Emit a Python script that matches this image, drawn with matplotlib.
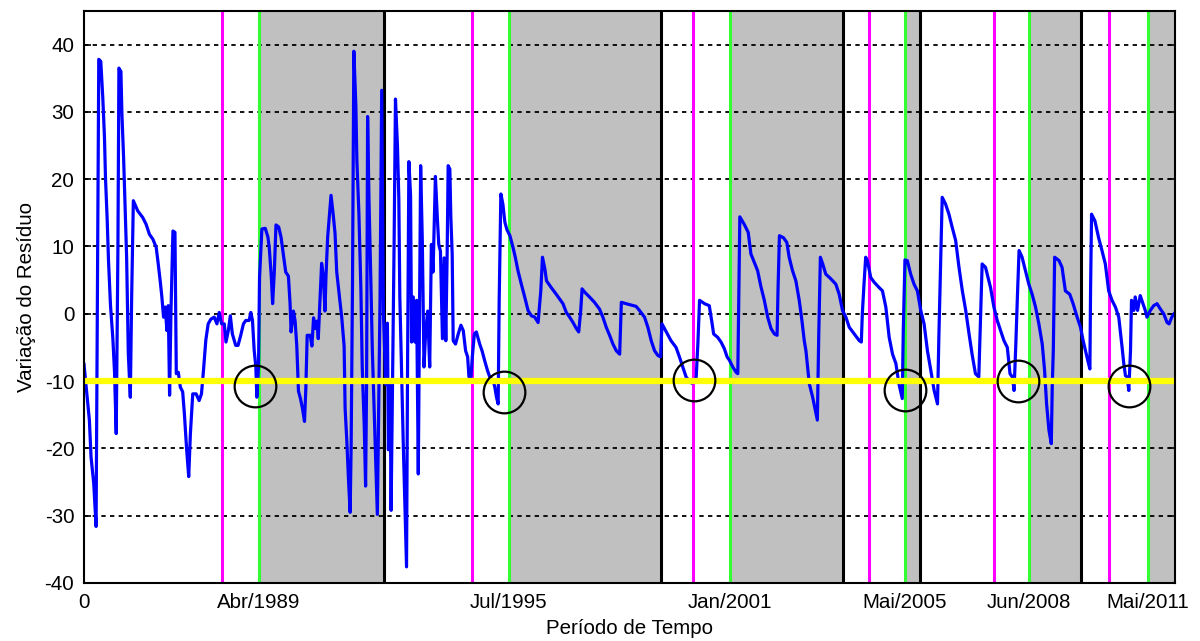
import matplotlib
matplotlib.use("Agg")
import matplotlib.pyplot as plt

plt.rcParams['font.family'] = ['Liberation Sans', 'DejaVu Sans']
plt.rcParams['axes.unicode_minus'] = False

# residual variation (x in months from the start)
months = [0, 0.9, 1.6, 2.1, 2.9, 3.6, 4.0, 4.4, 5.0, 5.6, 6.1, 6.4, 6.9, 7.3, 7.9, 8.6, 9.1, 9.6,
          10.1, 10.4, 11.0, 11.3, 11.8, 12.2, 12.7, 13.2, 13.8, 14.2, 14.7, 16.0, 17.5, 18.5, 19.5,
          20.5, 21.5, 22.0, 22.7, 23.2, 23.7, 24.2, 24.7, 25.1, 25.5, 25.9, 26.5, 27.1, 27.5, 28.1,
          28.7, 29.4, 29.9, 30.6, 31.2, 31.7, 32.4, 33.4, 34.3, 35.0, 35.6, 36.3, 37.0, 37.8, 38.8,
          39.6, 40.3, 41.0, 41.8, 42.3, 43.0, 43.6, 44.2, 45.2, 45.9, 46.7, 47.5, 48.2, 49.2, 49.7,
          50.2, 50.7, 51.2, 51.5, 52.0, 52.3, 53.0, 54.0, 54.8, 55.2, 55.8, 56.2, 56.7, 57.2, 58.0,
          58.7, 59.4, 60.1, 60.9, 61.4, 61.7, 62.4, 62.9, 63.4, 63.9, 64.5, 65.1, 65.7, 66.1, 66.5,
          67.4, 67.9, 68.4, 68.9, 69.4, 69.8, 70.3, 70.8, 71.3, 71.8, 72.1, 72.6, 73.1, 73.6, 74.3,
          74.8, 75.3, 76.0, 76.8, 77.5, 77.8, 78.3, 78.8, 79.3, 79.6, 80.0, 80.4, 81.0, 81.3, 81.9,
          82.5, 82.9, 83.5, 83.9, 84.2, 84.5, 84.9, 85.5, 85.9, 86.4, 86.9, 87.4, 87.9, 88.2, 88.7,
          89.2, 89.9, 90.4, 90.7, 91.2, 91.5, 92.0, 92.4, 92.8, 93.4, 93.8, 94.1, 94.6, 95.1, 95.6,
          96.1, 96.4, 96.8, 97.3, 97.6, 98.1, 98.6, 99.1, 99.6, 99.9, 100.3, 100.8, 101.3, 101.8,
          102.4, 103.0, 103.5, 104.0, 104.7, 105.3, 105.7, 106.2, 106.8, 107.3, 107.8, 108.2, 108.5,
          109.0, 109.3, 109.7, 110.0, 110.7, 111.5, 112.3, 113.0, 113.7, 114.3, 114.7, 115.3, 115.7,
          116.3, 116.9, 117.9, 118.6, 119.4, 120.2, 120.9, 121.9, 122.4, 122.9, 123.4, 123.7, 124.2,
          124.8, 125.4, 126.0, 126.9, 127.8, 128.5, 129.3, 130.3, 131.3, 132.3, 133.3, 134.3, 135.3,
          136.1, 136.6, 137.3, 137.8, 139.2, 140.7, 141.7, 142.7, 143.7, 144.7, 145.7, 146.7, 147.4,
          148.0, 148.4, 149.2, 150.6, 152.1, 153.6, 154.6, 155.6, 156.6, 157.6, 158.6, 159.6, 160.1,
          161.5, 164.5, 165.5, 167.0, 168.0, 169.0, 170.0, 171.0, 171.8, 172.2, 173.5, 174.9, 176.4,
          177.4, 178.4, 179.4, 179.9, 181.0, 182.0, 182.4, 182.9, 183.4, 184.9, 186.3, 187.0, 187.6,
          188.8, 189.8, 190.8, 191.6, 192.3, 193.3, 194.3, 194.8, 195.1, 195.4, 196.7, 197.9, 198.7,
          199.9, 200.7, 201.7, 202.7, 203.7, 204.7, 205.7, 206.5, 206.8, 207.2, 208.4, 209.4, 210.1,
          211.1, 212.1, 213.1, 213.9, 214.6, 215.1, 216.1, 217.1, 218.5, 218.9, 219.4, 220.1, 221.0,
          222.5, 224.0, 225.0, 226.0, 227.0, 228.0, 229.5, 231.0, 231.6, 231.9, 232.4, 232.9, 233.4,
          234.4, 235.4, 236.9, 237.9, 238.9, 239.9, 240.9, 241.9, 242.8, 243.8, 244.1, 244.6, 245.3,
          246.3, 247.3, 248.3, 249.3, 250.3, 251.3, 252.3, 253.3, 254.3, 254.7, 255.2, 255.7, 256.7,
          257.7, 258.7, 259.7, 260.7, 261.7, 262.7, 263.7, 264.6, 265.6, 266.6, 267.1, 267.6, 268.6,
          269.1, 270.1, 271.1, 272.1, 273.1, 274.1, 275.1, 275.9, 276.6, 277.1, 277.6, 278.1, 278.6,
          279.5, 280.5, 281.5, 282.5, 283.5, 284.5, 285.5, 286.2, 286.8, 287.5, 288.2, 288.5, 288.8,
          289.2, 290.5, 291.4, 292.4, 293.7, 294.7, 295.9, 296.9, 297.7, 298.4, 299.1, 299.7, 299.9,
          300.2, 301.2, 302.3, 303.3, 304.3, 305.3, 306.3, 307.3, 308.3, 309.3, 309.8, 310.3, 310.8,
          311.3, 311.8, 312.1, 312.8, 313.2, 313.9, 314.7, 315.5, 316.2, 316.7, 317.7, 318.7, 319.7,
          320.7, 321.7, 322.7, 323.3, 324.1, 324.8]
residual = [-7.5, -12.1, -15.8, -21.3, -25.2, -31.6, 3.0, 37.8, 37.5, 32.1, 26.2, 20.2, 14.1, 7.9, 1.2, -3.7, -8.7, -17.8,
            9.4, 36.5, 36.0, 29.6, 23.2, 16.5, 8.4, -5.9, -12.4, 2.5, 16.8, 15.3, 14.3, 13.3, 11.8,
            11.1, 9.9, 7.9, 4.9, 2.5, -0.5, 1.0, -2.5, 1.2, -12.1, 0.0, 12.3, 12.1, -8.9, -8.7,
            -10.9, -11.6, -14.8, -20.3, -24.2, -17.8, -11.9, -11.9, -12.9, -11.9, -8.4, -3.9, -1.5, -0.8, -0.5,
            -1.5, 0.2, -1.5, -1.5, -4.2, -2.5, -0.3, -3.0, -4.7, -4.7, -3.2, -1.5, -1.0, -1.0, 0.2,
            -1.0, -5.4, -7.9, -12.4, -7.9, 5.4, 12.6, 12.7, 11.4, 9.8, 5.6, 1.5, 6.2, 13.2, 12.9,
            11.4, 8.8, 6.2, 5.6, 1.5, -2.7, 0.4, -1.1, -4.8, -11.5, -12.6, -14.1, -16.0, -11.0, -3.2,
            -3.2, -4.8, -0.6, -2.2, -1.1, -3.7, 2.0, 7.5, 5.6, 0.4, 5.6, 11.4, 14.5, 17.6, 14.5,
            11.9, 6.2, 3.0, -0.6, -4.8, -14.1, -18.8, -24.6, -29.5, -19.3, 4.6, 39.0, 30.9, 22.8, 15.0,
            3.6, -7.9, -16.7, -25.6, -10.0, 29.3, 17.1, 4.1, -5.3, -13.6, -22.4, -29.8, -10.0, 2.0, 33.2,
            0.4, -10.5, -1.4, -20.2, -10.5, -29.2, -7.4, 10.8, 31.9, 24.9, 17.1, 2.5, -8.4, -18.8, -28.2,
            -37.6, -7.9, 22.6, 17.6, -4.2, 2.5, -4.2, 2.0, -23.8, -3.2, 22.0, 10.8, -7.9, -2.7,
            0.4, -7.9, 10.3, 6.2, 20.4, 14.0, 10.3, 9.3, -3.7, 8.3, -4.0, 9.0, 22.0,
            21.5, 14.3, 8.9, -4.0, -4.5, -3.0, -1.7, -2.5, -5.5, -6.4, -9.4, -9.4, -6.4,
            -3.0, -2.7, -4.5, -5.5, -7.0, -8.4, -9.4, -9.9, -10.9, -12.4, -13.4, 2.0, 17.8,
            16.3, 13.6, 12.5, 11.6, 9.9, 8.4, 6.4, 4.4, 2.5, 0.5, -0.3, -0.5, -1.3,
            3.4, 8.4, 6.7, 4.9, 3.9, 2.9, 2.2, 1.5, 0.2, -0.5, -1.3, -2.2, -2.7,
            0.5, 3.7, 3.2, 2.5, 1.7, 0.7, -0.5, -2.0, -3.2, -4.5, -5.5, -6.0, 1.7,
            1.5, 1.1, 0.5, -0.5, -2.0, -4.0, -5.5, -6.2, -6.4, -1.5, -2.7, -4.0, -5.0,
            -6.4, -7.9, -9.4, -9.7, -10.3, -10.2, -9.4, -4.5, 2.0, 1.5, 1.2, -1.0, -3.0,
            -3.5, -4.2, -5.2, -6.4, -6.9, -7.9, -8.7, -8.9, 2.5, 14.4, 13.3, 12.1, 8.9,
            7.4, 6.4, 4.0, 2.0, -0.5, -2.2, -3.0, -3.2, 4.0, 11.6, 11.3, 10.6, 8.4,
            6.4, 4.9, 2.0, -1.0, -4.0, -5.5, -10.4, -12.4, -15.8, -3.5, 8.4, 7.4, 5.9,
            5.2, 4.4, 2.9, 0.5, -0.5, -2.0, -3.0, -4.0, -4.2, 0.0, 4.4, 8.4, 7.9,
            5.4, 4.7, 3.9, 3.4, 1.0, -3.5, -6.0, -7.4, -10.4, -12.6, -2.5, 8.0, 7.9,
            5.9, 4.4, 3.4, 0.5, -1.5, -5.5, -8.4, -11.4, -13.4, -3.5, 6.9, 17.3, 16.3,
            14.8, 12.8, 10.9, 6.9, 3.4, 0.5, -3.0, -6.0, -8.9, -9.4, -1.0, 7.4, 6.9,
            5.9, 3.9, 1.0, -1.0, -2.5, -4.0, -5.0, -8.9, -9.4, -11.4, -5.0, 2.5, 9.4,
            8.4, 6.4, 4.4, 2.9, 1.0, -1.5, -4.5, -8.4, -13.4, -17.3, -19.3, -10.4, -5.5,
            8.4, 7.9, 6.9, 3.4, 2.9, 1.5, -0.5, -2.0, -4.0, -5.5, -7.0, -8.2, 3.4,
            14.8, 13.8, 11.3, 9.4, 7.4, 3.4, 2.0, 1.0, -0.5, -5.0, -7.4, -9.2, -9.4,
            -11.4, -5.5, 2.0, 0.5, 2.5, 0.5, 2.7, 1.5, 0.5, -0.5, 0.5, 1.2, 1.5,
            0.7, 0.0, -1.3, -1.5, -0.5, 0.0]

# event markers (months)
magenta_x = [41, 115.5, 181.5, 234, 271, 305.5]
green_x = [52, 126.5, 192.5, 244.5, 281.5, 317]
black_x = [89.5, 172, 226, 249, 297, 325]
circle_x = [50.8, 125.1, 181.6, 244.6, 278.2, 311.3]
circle_y = [-10.8, -11.6, -9.8, -11.4, -10.0, -10.7]
threshold = -10

tick_pos = [0] + green_x
tick_lab = ['0', 'Abr/1989', 'Jul/1995', 'Jan/2001', 'Mai/2005', 'Jun/2008', 'Mai/2011']

fig = plt.figure(figsize=(12, 6.41), dpi=100)
ax = fig.add_axes([0.07, 0.0905, 0.909, 0.8925])

# shaded periods between green and black lines
for g, b in zip(green_x, black_x):
    ax.axvspan(g, b, color='#c0c0c0', lw=0, zorder=1)

# dashed horizontal grid
for yv in range(-30, 45, 10):
    ax.axhline(yv, color='black', lw=1.3, dashes=(2.4, 2.4), zorder=1.5)

for x in magenta_x:
    ax.axvline(x, color='#ff00ff', lw=2.2, zorder=2)
for x in green_x:
    ax.axvline(x, color='#33ff33', lw=2.2, zorder=2)
for x in black_x[:-1]:
    ax.axvline(x, color='black', lw=2.2, zorder=2)

ax.plot(months, residual, color='#0000ff', lw=2.3, zorder=3)
ax.axhline(threshold, color='#ffff00', lw=4.5, zorder=4)
ax.plot(circle_x, circle_y, 'o', ms=30, mfc='none', mec='black', mew=1.6, zorder=5)

ax.set_xlim(0, 325)
ax.set_ylim(-40, 45)
ax.set_yticks(range(-40, 41, 10))
ax.set_xticks(tick_pos)
ax.set_xticklabels(tick_lab)
ax.tick_params(direction='in', length=5, width=1.2, labelsize=14.8, right=True, top=True, pad=7)
for s in ax.spines.values():
    s.set_linewidth(1.5)
    s.set_zorder(6)

ax.set_xlabel('Período de Tempo', fontsize=14.8, labelpad=5)
ax.set_ylabel('Variação do Resíduo', fontsize=14.8, labelpad=6)

fig.savefig('out.png', dpi=100)
